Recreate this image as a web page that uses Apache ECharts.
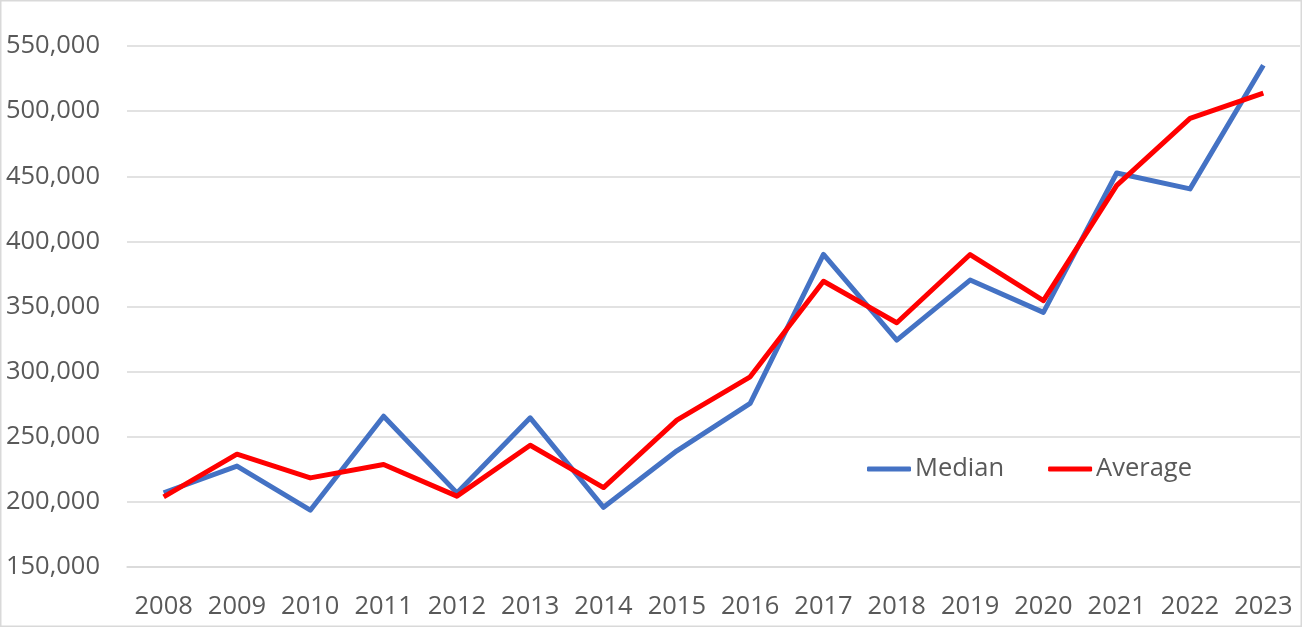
<!DOCTYPE html>
<html>
<head>
<meta charset="utf-8">
<script src="https://cdn.jsdelivr.net/npm/echarts@6/dist/echarts.min.js"></script>
<style>
html,body{margin:0;padding:0;background:#fff;}
#chart{width:1302px;height:627px;}
</style>
</head>
<body>
<div id="chart"></div>
<script>
const years = ['2008','2009','2010','2011','2012','2013','2014','2015','2016','2017','2018','2019','2020','2021','2022','2023'];
const median = [207000, 227500, 193600, 265800, 206900, 264500, 195800, 239200, 275600, 390000, 324200, 370300, 345500, 452500, 440300, 535200];
const average = [203800, 236600, 218400, 228700, 204400, 243500, 211000, 262800, 296000, 369400, 337500, 389900, 354500, 443000, 494400, 513800];
const yMin = 150000, yMax = 550000, yStep = 50000;

const chart = echarts.init(document.getElementById('chart'), null, {renderer: 'canvas'});
const font = '"Open Sans", "Noto Sans", sans-serif';
chart.setOption({
  animation: false,
  backgroundColor: '#ffffff',
  graphic: [{
    type: 'rect', silent: true, z: -1,
    shape: {x: 0.75, y: 0.75, width: 1300.5, height: 625.5},
    style: {fill: 'none', stroke: '#d9d9d9', lineWidth: 1.5}
  }],
  grid: {left: 127, right: 2, top: 46, bottom: 60, containLabel: false},
  legend: {
    left: 862, top: 451,
    itemWidth: 44, itemHeight: 5, itemGap: 44,
    icon: 'roundRect',
    textStyle: {color: '#595959', fontSize: 25.5, fontFamily: font, padding: [0,0,0,-1]},
    data: ['Median', 'Average']
  },
  xAxis: {
    type: 'category', data: years, boundaryGap: true,
    axisLine: {show: true, lineStyle: {color: '#d9d9d9', width: 1.5}},
    axisTick: {show: false},
    axisLabel: {color: '#595959', fontSize: 25.5, fontFamily: font, margin: 27, interval: 0},
    splitLine: {show: false}
  },
  yAxis: {
    type: 'value', min: yMin, max: yMax, interval: yStep,
    axisLine: {show: false}, axisTick: {show: false},
    axisLabel: {color: '#595959', fontSize: 25.5, fontFamily: font, margin: 27,
      formatter: v => v.toLocaleString('en-US')},
    splitLine: {lineStyle: {color: '#d9d9d9', width: 1.5}}
  },
  series: [
    {name: 'Median', type: 'line', data: median, symbol: 'none',
      lineStyle: {color: '#4472C4', width: 5, join: 'round'}, itemStyle: {color: '#4472C4'}},
    {name: 'Average', type: 'line', data: average, symbol: 'none',
      lineStyle: {color: '#FF0000', width: 5, join: 'round'}, itemStyle: {color: '#FF0000'}}
  ]
});
</script>
</body>
</html>
